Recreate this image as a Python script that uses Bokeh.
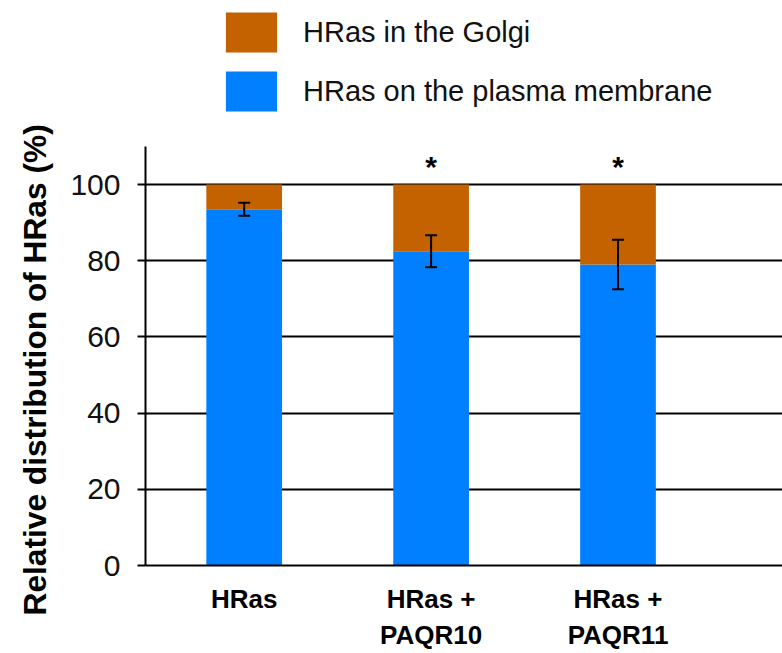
from bokeh.plotting import figure
from bokeh.models import (ColumnDataSource, FixedTicker, Legend, LegendItem,
                          Whisker, TeeHead, Title)
from bokeh.core.properties import value
from bokeh.embed import file_html
from bokeh.resources import INLINE

categories = ["HRas", "HRas +\nPAQR10", "HRas +\nPAQR11"]
membrane = [93.5, 82.5, 79.0]
golgi = [6.5, 17.5, 21.0]
err = [1.7, 4.2, 6.5]
marks = ["", "*", "*"]
y_ticks = [0, 20, 40, 60, 80, 100]
series_labels = ["HRas in the Golgi", "HRas on the plasma membrane"]
y_title = "Relative distribution of HRas (%)"

xpos = [1, 2, 3]
FONT = "Liberation Sans"
ORANGE = "#C56200"
BLUE = "#0080FF"

src = ColumnDataSource(dict(
    x=xpos,
    membrane=membrane,
    golgi=golgi,
    top=[m + g for m, g in zip(membrane, golgi)],
    lower=[m - e for m, e in zip(membrane, err)],
    upper=[m + e for m, e in zip(membrane, err)],
    mark=marks,
    mark_y=[104.8] * len(marks),
))

p = figure(width=782, height=653, x_range=(0.472, 3.88), y_range=(0, 148.3),
           output_backend="svg", toolbar_location=None,
           min_border_left=143, min_border_right=0, min_border_top=0,
           min_border_bottom=88)
p.outline_line_color = None
p.xgrid.grid_line_color = None
p.ygrid.grid_line_color = "black"
p.ygrid.grid_line_width = 2
p.ygrid.ticker = FixedTicker(ticks=y_ticks[1:])

pm = p.vbar(x="x", bottom=0, top="membrane", width=0.405, source=src,
            fill_color=BLUE, line_color=None)
gg = p.vbar(x="x", bottom="membrane", top="top", width=0.405, source=src,
            fill_color=ORANGE, line_color=None)

wh = Whisker(base="x", lower="lower", upper="upper", source=src,
             line_color="black", line_width=2, level="overlay",
             upper_head=TeeHead(size=12, line_color="black", line_width=2),
             lower_head=TeeHead(size=12, line_color="black", line_width=2))
p.add_layout(wh)

p.text(x="x", y="mark_y", text="mark", source=src, text_align="center",
       text_baseline="alphabetic", text_font=value(FONT),
       text_font_size="30px", text_font_style="bold", text_color="black")

# y axis
p.yaxis.ticker = FixedTicker(ticks=y_ticks)
p.yaxis.bounds = (0, 110)
p.yaxis.axis_line_color = "black"
p.yaxis.axis_line_width = 2
p.yaxis.major_tick_line_color = "black"
p.yaxis.major_tick_line_width = 2
p.yaxis.major_tick_out = 8
p.yaxis.major_tick_in = 0
p.yaxis.minor_tick_line_color = None
p.yaxis.major_label_text_font = FONT
p.yaxis.major_label_text_font_size = "30px"
p.yaxis.major_label_text_color = "#111111"
p.yaxis.major_label_standoff = 17

p.add_layout(Title(text=y_title, align="left", offset=-50, standoff=29,
                   text_font=FONT, text_font_size="31.7px",
                   text_font_style="bold", text_color="black"), "left")

# x axis
p.xaxis.ticker = FixedTicker(ticks=xpos)
p.xaxis.major_label_overrides = {x: c for x, c in zip(xpos, categories)}
p.xaxis.axis_line_color = "black"
p.xaxis.axis_line_width = 2
p.xaxis.major_tick_line_color = None
p.xaxis.major_tick_out = 0
p.xaxis.major_tick_in = 0
p.xaxis.minor_tick_line_color = None
p.xaxis.major_label_text_font = FONT
p.xaxis.major_label_text_font_size = "26px"
p.xaxis.major_label_text_font_style = "bold"
p.xaxis.major_label_text_color = "black"
p.xaxis.major_label_standoff = 18

legend = Legend(items=[LegendItem(label=series_labels[0], renderers=[gg]),
                       LegendItem(label=series_labels[1], renderers=[pm])],
                location=(74, 449), orientation="vertical",
                glyph_width=64, glyph_height=50, spacing=9, padding=0,
                margin=0, label_standoff=20, label_text_font=FONT,
                label_text_font_size="29px", label_text_color="#111111",
                border_line_color=None, background_fill_alpha=0)
p.add_layout(legend, "center")

open("out.html", "w").write(file_html(p, INLINE))
